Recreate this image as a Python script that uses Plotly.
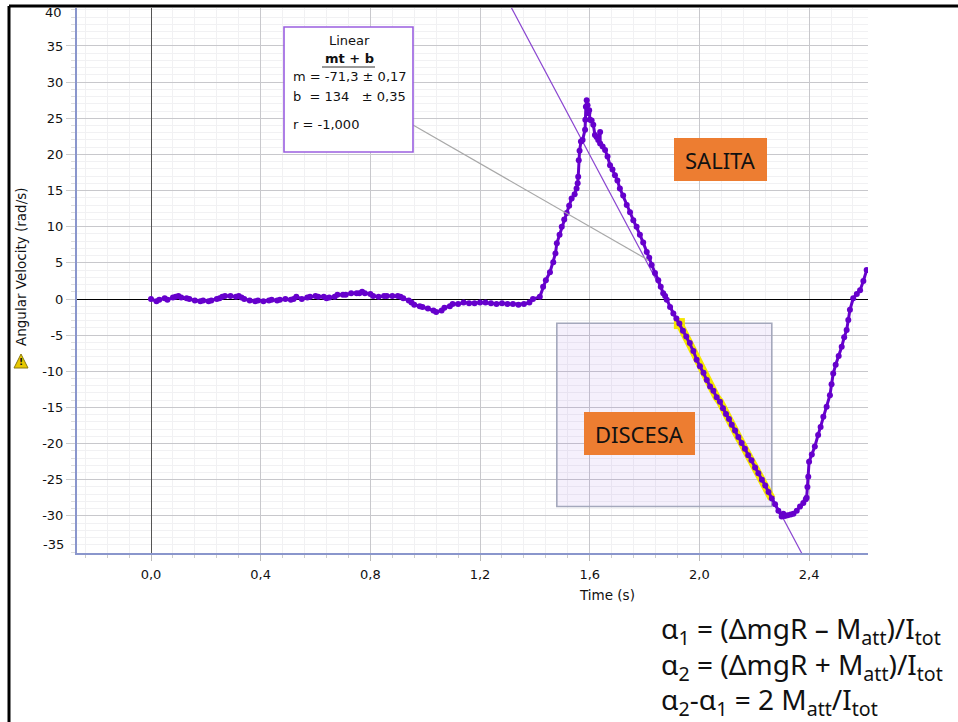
import plotly.graph_objects as go

time_s = [0.00,0.02,0.03,0.05,0.06,0.08,0.09,0.10,0.11,0.13,0.14,0.16,0.18,0.19,0.21,0.22,0.24,0.25,0.26,0.27,0.29,0.31,0.32,0.33,0.34,0.36,0.38,0.39,0.41,0.43,0.44,0.46,0.47,0.49,0.51,0.52,0.53,0.55,0.57,0.58,0.60,0.61,0.63,0.64,0.65,0.67,0.68,0.70,0.71,0.73,0.75,0.76,0.77,0.78,0.80,0.81,0.83,0.85,0.86,0.88,0.90,0.91,0.92,0.94,0.95,0.96,0.98,0.99,1.01,1.03,1.04,1.06,1.07,1.09,1.10,1.12,1.14,1.16,1.18,1.20,1.22,1.24,1.26,1.28,1.30,1.32,1.34,1.36,1.38,1.393,1.418,1.43,1.44,1.455,1.467,1.475,1.48,1.49,1.498,1.507,1.516,1.525,1.534,1.545,1.552,1.556,1.558,1.56,1.563,1.568,1.574,1.583,1.584,1.586,1.589,1.592,1.595,1.598,1.601,1.607,1.613,1.619,1.625,1.631,1.638,1.638,1.647,1.656,1.665,1.674,1.683,1.692,1.701,1.71,1.722,1.735,1.747,1.759,1.771,1.783,1.795,1.808,1.817,1.826,1.838,1.85,1.859,1.868,1.875,1.881,1.893,1.905,1.916,1.927,1.94,1.952,1.965,1.978,1.99,2.002,2.015,2.027,2.039,2.051,2.063,2.075,2.086,2.097,2.108,2.118,2.13,2.142,2.154,2.166,2.178,2.19,2.203,2.215,2.228,2.24,2.252,2.264,2.276,2.288,2.3,2.306,2.312,2.322,2.333,2.343,2.355,2.367,2.379,2.388,2.391,2.394,2.397,2.40,2.41,2.421,2.433,2.442,2.452,2.464,2.476,2.482,2.488,2.497,2.508,2.519,2.528,2.537,2.543,2.549,2.561,2.574,2.586,2.598,2.61]
omega = [0.0,-0.3,-0.1,0.1,-0.1,0.2,0.3,0.4,0.2,0.1,0.0,-0.2,-0.3,-0.2,-0.3,-0.2,0.0,0.1,0.3,0.4,0.4,0.3,0.4,0.2,0.0,-0.2,-0.3,-0.2,-0.3,-0.2,-0.1,-0.2,-0.1,0.0,-0.1,0.0,0.3,0.0,0.2,0.3,0.4,0.3,0.3,0.1,0.2,0.3,0.6,0.6,0.6,0.8,0.8,0.8,1.0,0.8,0.7,0.4,0.3,0.4,0.4,0.4,0.4,0.3,0.1,-0.2,-0.5,-0.8,-1.0,-1.1,-1.3,-1.6,-1.8,-1.6,-1.2,-1.0,-0.7,-0.7,-0.5,-0.6,-0.6,-0.5,-0.5,-0.6,-0.7,-0.6,-0.7,-0.7,-0.8,-0.7,-0.5,0.0,0.3,1.7,2.6,3.7,5.1,6.3,7.7,8.9,10.0,11.0,11.9,12.9,13.9,14.5,15.3,16.0,16.9,19.2,20.5,21.8,22.0,23.4,24.8,26.6,27.5,26.8,25.7,26.1,24.8,24.7,24.1,22.7,22.4,22.0,23.1,21.5,21.1,20.6,19.7,18.5,17.9,17.1,16.4,15.3,14.3,13.0,12.0,10.9,10.0,8.9,7.8,6.5,5.7,4.7,3.6,2.6,1.7,0.8,0.4,-0.1,-1.1,-2.0,-2.7,-3.4,-4.4,-5.2,-6.1,-7.2,-8.4,-9.3,-10.2,-11.2,-12.1,-12.7,-13.6,-14.2,-15.1,-15.9,-16.6,-17.4,-18.2,-19.1,-19.9,-20.7,-21.6,-22.3,-23.3,-24.1,-25.0,-25.8,-26.7,-27.6,-28.4,-29.3,-30.1,-29.7,-30.0,-29.9,-29.8,-29.7,-29.3,-28.7,-28.2,-27.7,-27.5,-26.0,-24.6,-22.5,-21.5,-20.4,-18.8,-17.7,-16.3,-14.9,-13.3,-11.8,-10.3,-9.1,-7.9,-6.6,-5.3,-4.3,-2.9,-1.5,0.1,0.7,1.2,2.5,4.0]

sel_start = 1.927
sel_end = 2.264
sel_time = [t for t in time_s if sel_start <= t <= sel_end]
sel_omega = [w for t, w in zip(time_s, omega) if sel_start <= t <= sel_end]

fit_time = [1.31, 2.375]
fit_omega = [40.6, -35.3]

x_ticks = [0.0, 0.4, 0.8, 1.2, 1.6, 2.0, 2.4]
x_labels = ["0,0", "0,4", "0,8", "1,2", "1,6", "2,0", "2,4"]
y_ticks = [35, 30, 25, 20, 15, 10, 5, 0, -5, -10, -15, -20, -25, -30]
y_labels = ["35", "30", "25", "20", "15", "10", "5", "0", "-5", "-10", "-15", "-20", "-25", "-30"]

W, H = 958, 722
L, R, T, B = 77, 868, 8, 553
def px(v): return (v - L) / (R - L)
def py(v): return (B - v) / (B - T)

TICK = "DejaVu Sans"
PURPLE = "#6600cc"
AXIS = "#8a96cc"

fig = go.Figure()
fig.add_trace(go.Scatter(x=fit_time, y=fit_omega, mode="lines",
                         line=dict(color="#8a45d0", width=1.2), hoverinfo="skip"))
fig.add_trace(go.Scatter(x=sel_time, y=sel_omega, mode="lines",
                         line=dict(color="#f5e600", width=8), hoverinfo="skip"))
fig.add_trace(go.Scatter(x=sel_time[:1], y=sel_omega[:1], mode="markers",
                         marker=dict(color="#f5e600", size=11, symbol="square"), hoverinfo="skip"))
fig.add_trace(go.Scatter(x=time_s, y=omega, mode="lines+markers",
                         line=dict(color=PURPLE, width=3),
                         marker=dict(color=PURPLE, size=6)))

shapes = []
def rect(x0, y0, x1, y1, fill, line, width, layer="above"):
    shapes.append(dict(type="rect", xref="paper", yref="paper", x0=px(x0), x1=px(x1),
                       y0=py(y1), y1=py(y0), fillcolor=fill,
                       line=dict(color=line, width=width), layer=layer))
def seg(x0, y0, x1, y1, color, width, layer="above"):
    shapes.append(dict(type="line", xref="paper", yref="paper", x0=px(x0), x1=px(x1),
                       y0=py(y0), y1=py(y1), line=dict(color=color, width=width), layer=layer))

# selection box
shapes.append(dict(type="rect", xref="x", yref="y", x0=1.48, x1=2.264, y0=-28.7, y1=-3.36,
                   fillcolor="rgba(130,70,215,0.08)", line=dict(color="#a4a8bc", width=1.6), layer="between"))
# callout
seg(413, 125, 648, 260, "#a8a8a8", 1.2)
rect(284, 27, 413, 152, "#ffffff", "#9a5fe0", 1.6)
seg(322, 67, 375, 67, "#333333", 1)
# orange tags
rect(674, 138, 767, 181, "#ed7d31", "#ed7d31", 0)
rect(584, 412, 695, 455, "#ed7d31", "#ed7d31", 0)
# slide frame
seg(9, 6, 958, 6, "#000000", 3)
seg(9, 6, 9, 722, "#000000", 3)
# warning triangle
shapes.append(dict(type="path", xref="paper", yref="paper",
                   path=f"M {px(21)} {py(354)} L {px(28)} {py(368)} L {px(14)} {py(368)} Z",
                   fillcolor="#e8c800", line=dict(color="#8a7a10", width=1)))

def note(x, y, text, size=13, font=TICK, color="#111111", anchor="center", angle=0):
    return dict(xref="paper", yref="paper", x=px(x), y=py(y), text=text, showarrow=False,
                font=dict(family=font, size=size, color=color), xanchor=anchor, yanchor="middle",
                textangle=angle, align="left")

MATH = "Noto Sans"
annotations = [
    note(349, 40, "Linear"),
    note(349, 59, "<b>mt + b</b>"),
    note(291, 77, "m = -71,3 ± 0,17", anchor="left"),
    note(291, 96, "b  = 134   ± 0,35", anchor="left"),
    note(291, 125, "r = -1,000", anchor="left"),
    note(720, 160, "SALITA", size=22, font="Noto Sans"),
    note(639, 434, "DISCESA", size=22, font="Noto Sans"),
    note(607, 595, "Time (s)", size=13.5),
    note(21, 267, "Angular Velocity (rad/s)", size=13.5, angle=-90),
    note(21, 362, "<b>!</b>", size=9),
    note(53, 13, "40"),
    note(53, 544, "-35"),
    note(659, 630, "α<sub>1</sub> = (ΔmgR – M<sub>att</sub>)/I<sub>tot</sub>", size=28, font=MATH, anchor="left"),
    note(659, 666, "α<sub>2</sub> = (ΔmgR + M<sub>att</sub>)/I<sub>tot</sub>", size=28, font=MATH, anchor="left"),
    note(659, 701, "α<sub>2</sub>-α<sub>1</sub> = 2 M<sub>att</sub>/I<sub>tot</sub>", size=28, font=MATH, anchor="left"),
]

fig.update_layout(
    width=W, height=H, autosize=False, showlegend=False,
    margin=dict(l=L, r=W - R, t=T, b=H - B, pad=0),
    paper_bgcolor="#ffffff", plot_bgcolor="#ffffff",
    font=dict(family=TICK, size=13, color="#111111"),
    shapes=shapes, annotations=annotations,
    xaxis=dict(range=[(L - 151) / 274.2, (R - 151) / 274.2], tickmode="array",
               tickvals=x_ticks, ticktext=x_labels, showgrid=True, gridcolor="#c8c8cc", gridwidth=1,
               zeroline=True, zerolinecolor="#555555", zerolinewidth=1.4,
               showline=True, linecolor=AXIS, linewidth=2,
               ticks="outside", ticklen=6, tickcolor="#bbbbbb", ticklabelstandoff=2,
               minor=dict(tick0=0, dtick=0.08, showgrid=True, gridcolor="#f1f1f3", gridwidth=1,
                          ticks="outside", ticklen=3, tickcolor="#cccccc")),
    yaxis=dict(range=[(299 - B) / 7.23, (299 - T) / 7.23], tickmode="array",
               tickvals=y_ticks, ticktext=y_labels, showgrid=True, gridcolor="#c8c8cc", gridwidth=1,
               zeroline=True, zerolinecolor="#000000", zerolinewidth=1.2,
               showline=True, linecolor=AXIS, linewidth=2,
               ticks="outside", ticklen=9, tickcolor="#cccccc",
               minor=dict(tick0=0, dtick=1, showgrid=True, gridcolor="#f1f1f3", gridwidth=1,
                          ticks="outside", ticklen=4, tickcolor="#dddddd")),
)

fig.write_html("out.html", config=dict(displayModeBar=False),
               post_script="document.body.style.margin='0';")
